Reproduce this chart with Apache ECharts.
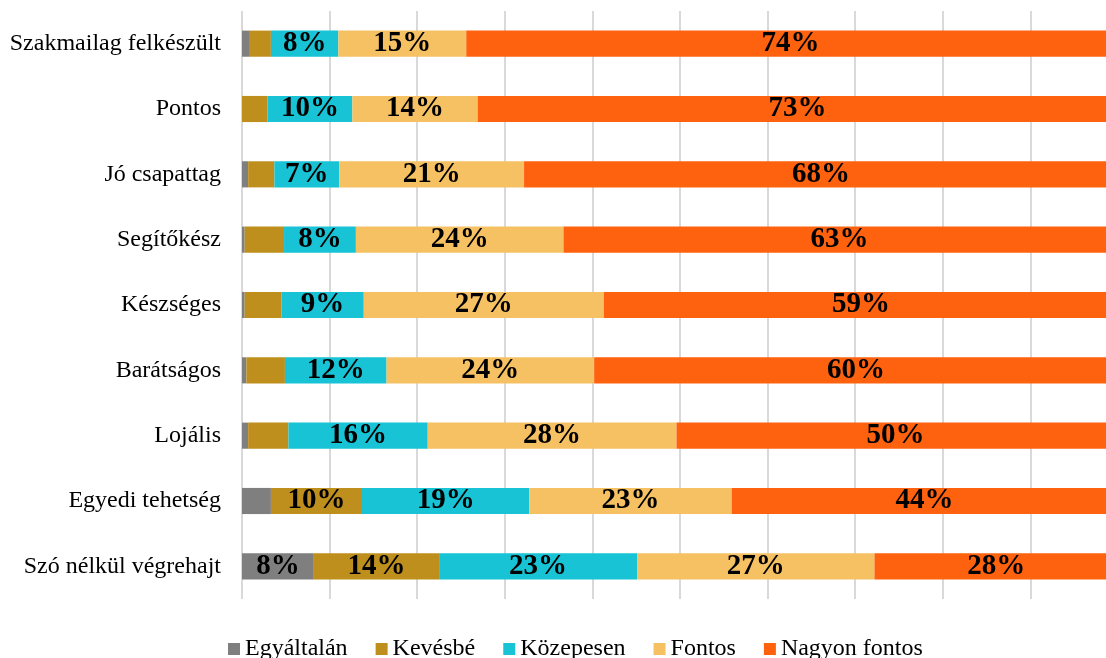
<!DOCTYPE html>
<html>
<head>
<meta charset="utf-8">
<script src="https://cdn.jsdelivr.net/npm/echarts@6/dist/echarts.min.js"></script>
<style>
html,body{margin:0;padding:0;background:#fff;}
#chart{width:1106px;height:658px;}
</style>
</head>
<body>
<div id="chart"></div>
<script>
const categories = ['Szakmailag felkészült','Pontos','Jó csapattag','Segítőkész','Készséges','Barátságos','Lojális','Egyedi tehetség','Szó nélkül végrehajt'];
const seriesNames = ['Egyáltalán','Kevésbé','Közepesen','Fontos','Nagyon fontos'];
const egyaltalan = [0.9, 0, 0.7, 0.3, 0.3, 0.5, 0.7, 3.3, 8.2];
const kevesbe = [2.4, 2.9, 3.0, 4.5, 4.2, 4.4, 4.6, 10.4, 14.3];
const kozepesen = [7.7, 9.7, 7.4, 8.2, 9.4, 11.6, 15.9, 19.1, 22.6];
const fontos = [14.6, 14.3, 21.1, 23.7, 27.4, 23.7, 28.4, 23.1, 27.1];
const nagyonFontos = [74, 73, 68, 63, 59, 60, 50, 44, 28];
const colors = ['#7F7F7F','#BF8F1E','#17C3D4','#F5C163','#FE620E'];
const values = [egyaltalan, kevesbe, kozepesen, fontos, nagyonFontos];
const FONT = "'Liberation Serif','Times New Roman',serif";

const chart = echarts.init(document.getElementById('chart'), null, {renderer:'canvas'});
chart.setOption({
  animation:false,
  backgroundColor:'#fff',
  textStyle:{fontFamily:FONT},
  grid:{left:242, width:876, top:11, bottom:59, containLabel:false, outerBoundsMode:'none'},
  legend:{
    data:seriesNames, top:637, left:228, padding:0,
    itemWidth:12, itemHeight:12, itemGap:28, icon:'rect',
    textStyle:{fontFamily:FONT, fontSize:24, color:'#000'}
  },
  xAxis:{
    type:'value', min:0, max:100, interval:10,
    axisLabel:{show:false}, axisLine:{show:false}, axisTick:{show:false},
    splitLine:{show:true, lineStyle:{color:'#d9d9d9', width:2}}
  },
  yAxis:{
    type:'category', data:categories, inverse:true,
    axisLine:{show:false}, axisTick:{show:false},
    axisLabel:{fontFamily:FONT, fontSize:24, color:'#000', margin:21}
  },
  series: seriesNames.map((n,i)=>({
    name:n, type:'bar', stack:'total', data:values[i],
    barCategoryGap:'60%',
    itemStyle:{color:colors[i]},
    label:{
      show:true, position:'inside', color:'#000',
      fontFamily:FONT, fontSize:29, fontWeight:'bold',
      formatter:p=> p.value>=5 ? Math.round(p.value)+'%' : ''
    }
  }))
});
</script>
</body>
</html>
